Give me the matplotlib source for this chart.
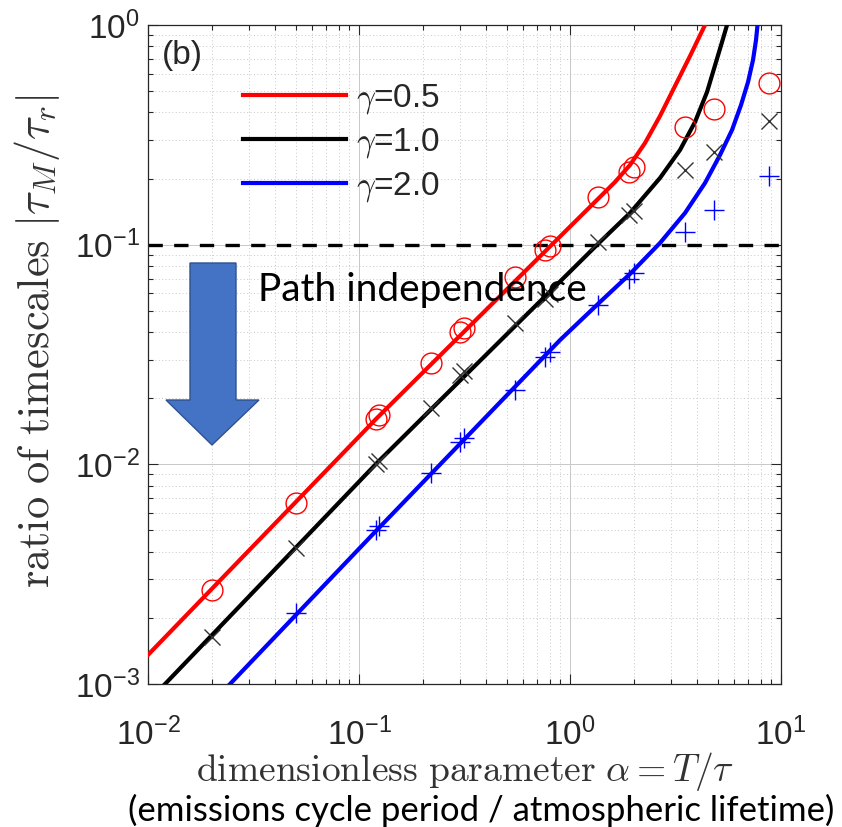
import numpy as np
import matplotlib
matplotlib.use("Agg")
import matplotlib.pyplot as plt
from matplotlib.patches import Polygon

plt.rcParams["font.family"] = ["Liberation Sans", "DejaVu Sans"]
plt.rcParams["mathtext.fontset"] = "cm"

# --- model curves ---
red_x = [0.01, 0.1217, 1.387, 1.634, 1.925, 2.267, 2.670, 3.145, 3.705, 4.363]
red_y = [1.357e-3, 0.01626, 0.1649, 0.1929, 0.2306, 0.2904, 0.3853, 0.5278, 0.7225, 1.0]
black_x = [0.01204, 0.1230, 1.387, 1.925, 2.670, 3.321, 3.912, 4.460, 4.920, 5.253, 5.547]
black_y = [1e-3, 0.01026, 0.1029, 0.1394, 0.2012, 0.2698, 0.3618, 0.4955, 0.6787, 0.8367, 1.0]
blue_x = [0.02447, 0.1217, 0.897, 1.387, 1.925, 2.670, 3.508, 4.363, 5.138, 5.858,
          6.462, 6.976, 7.366, 7.611, 7.737]
blue_y = [1e-3, 5.03e-3, 0.0368, 0.0548, 0.0736, 0.1018, 0.1394, 0.1909, 0.2559, 0.3327,
          0.4324, 0.5502, 0.6930, 0.8546, 1.0]

# --- simulation points ---
pts_x = [0.02, 0.05, 0.12, 0.125, 0.22, 0.30, 0.315, 0.55, 0.76, 0.80,
         1.36, 1.90, 2.0, 3.5, 4.8, 8.8]
red_pts = [2.68e-3, 6.67e-3, 0.0160, 0.0167, 0.029, 0.0400, 0.0418, 0.0713,
           0.095, 0.099, 0.165, 0.215, 0.225, 0.343, 0.415, 0.545]
black_pts = [1.64e-3, 4.17e-3, 0.0100, 0.0104, 0.0181, 0.0255, 0.0267, 0.0440,
             0.0565, 0.0595, 0.103, 0.136, 0.143, 0.219, 0.264, 0.366]
blue_pts = [np.nan, 2.11e-3, 5.05e-3, 5.25e-3, 9.14e-3, 0.0126, 0.0132, 0.0218,
            0.0308, 0.0323, 0.0532, 0.070, 0.074, 0.114, 0.144, 0.206]

labels = [r"$\gamma$=0.5", r"$\gamma$=1.0", r"$\gamma$=2.0"]
THRESH = 0.1
TXT = "#262626"

fig = plt.figure(figsize=(8.42, 8.27), dpi=100)
ax = fig.add_axes([0.1758, 0.1729, 0.7518, 0.7969])
ax.set_xscale("log"); ax.set_yscale("log")
ax.set_xlim(1e-2, 1e1); ax.set_ylim(1e-3, 1e0)

ax.grid(True, which="major", color="#c8c8c8", lw=0.7, ls="-")
ax.grid(True, which="minor", color="#c8c8c8", lw=0.7, ls=(0, (1, 2.5)))
ax.set_axisbelow(True)

ax.axhline(THRESH, color="black", lw=2.4, ls=(0, (4.3, 3.4)), zorder=2)

ax.plot(red_x, red_y, color="#ff0000", lw=3, label=labels[0], zorder=3)
ax.plot(black_x, black_y, color="black", lw=3, label=labels[1], zorder=3)
ax.plot(blue_x, blue_y, color="#0000ff", lw=3, label=labels[2], zorder=3)

ax.plot(pts_x, red_pts, ls="none", marker="o", ms=15, mfc="none", mec="#ff0000", mew=1.0, zorder=4)
ax.plot(pts_x, black_pts, ls="none", marker="x", ms=11, color="#333333", mew=1.0, zorder=4)
ax.plot(pts_x, blue_pts, ls="none", marker="+", ms=15, color="#0000ff", mew=1.0, zorder=4)

ax.tick_params(which="both", direction="in", top=True, right=True, colors=TXT,
               labelsize=24, width=0.8)
ax.tick_params(which="major", length=7)
ax.tick_params(which="minor", length=3.5)
ax.tick_params(axis="x", pad=24)
ax.tick_params(axis="y", pad=6)
for s in ax.spines.values():
    s.set_color(TXT); s.set_linewidth(0.9)

ax.set_xlabel(r"$\mathrm{dimensionless\ parameter}\ \alpha = T/\tau$", fontsize=27,
              color="#333333")
ax.set_ylabel(r"$\mathrm{ratio\ of\ timescales}\ |\tau_M/\tau_r|$", fontsize=32,
              color="#333333")
ax.xaxis.set_label_coords(0.5, -0.100)
ax.yaxis.set_label_coords(-0.136, 0.52)

leg = ax.legend(loc="upper left", bbox_to_anchor=(0.15, 0.913), frameon=False,
                fontsize=24, handlelength=3.1, handletextpad=0.3, labelspacing=0.3,
                borderpad=0, borderaxespad=0)
for t in leg.get_texts():
    t.set_color(TXT)

ax.text(0.022, 0.954, "(b)", transform=ax.transAxes, fontsize=24, color=TXT,
        ha="left", va="center")

# annotation overlay (pixel positions of the original slide)
W, H = 842.0, 827.0
arrow_px = [(190, 263), (236, 263), (236, 400), (259, 400), (212, 445),
            (166, 400), (190, 400)]
arrow = Polygon([(x / W, 1 - y / H) for x, y in arrow_px], closed=True,
                transform=fig.transFigure, facecolor="#4472c4", edgecolor="#2f528f",
                lw=1, zorder=10)
fig.patches.append(arrow)

fig.text(258 / W, 1 - 290 / H, "Path independence", fontsize=28, family="Lato",
         ha="left", va="center", color="black", zorder=11)
fig.text(128 / W, 1 - 810 / H, "(emissions cycle period / atmospheric lifetime)",
         fontsize=25, family="Lato", ha="left", va="center", color="black")

fig.savefig("out.png", dpi=100)
